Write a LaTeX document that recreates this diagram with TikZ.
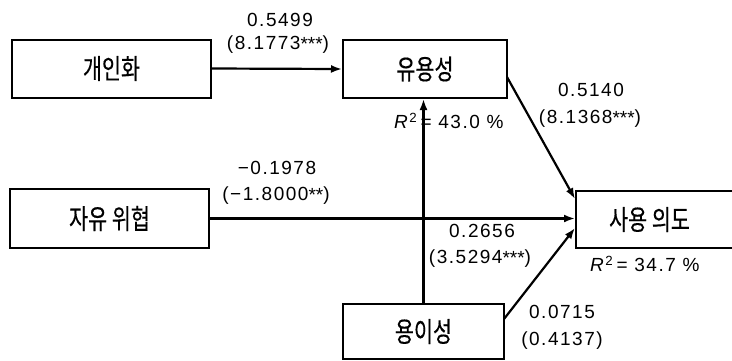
\documentclass[tikz,border=0pt]{standalone}
\usepackage{fontspec}
\setmainfont{Liberation Sans}[LetterSpace=8]
\newfontfamily\krfont{Noto Sans CJK KR}[FakeBold=0.4]
\usetikzlibrary{arrows.meta}
\newcommand{\kr}[1]{\scalebox{0.9}[1.2]{\krfont #1}}
\newcommand{\stt}{\raisebox{-1pt}{*}}
\tikzset{
  box/.style={draw, line width=2pt, minimum height=58pt, inner sep=0pt, font=\fontsize{23}{23}\selectfont},
  arr/.style={line width=2.2pt, -{Latex[length=11pt,width=8pt]}},
  lab/.style={font=\fontsize{19}{19}\selectfont, inner sep=0pt},
}
\begin{document}
\begin{tikzpicture}[x=1pt,y=-1pt]
\useasboundingbox (0,0) rectangle (732,360);
\clip (0,0) rectangle (732,360);
\node[box, minimum width=199pt] (A) at (111.5,68.5) {\kr{개인화}};
\node[box, minimum width=164pt] (U) at (425,69) {\kr{유용성}};
\node[box, minimum width=199pt, minimum height=59pt] (F) at (109.5,218.5) {\kr{자유 위협}};
\node[box, minimum width=170pt, minimum height=57pt, anchor=west] (I) at (575,219.5) {\hspace*{-23pt}\kr{사용 의도}};
\node[box, minimum width=161pt, minimum height=55pt, anchor=north] (E) at (423.5,303) {\kr{용이성}};
\draw[arr] (A.east) -- (U.west);
\draw[arr] (F.east) -- (F.east -| I.west);
\draw[arr] (E.north) -- (E.north |- U.south);
\coordinate (us) at (507,77);
\coordinate (it) at (575,199);
\draw[arr] (us) -- (it);
\coordinate (es) at (504,319);
\coordinate (ib) at (575,228);
\draw[arr] (es) -- (ib);
\node[lab] (l1) at (280,20) {0.5499};
\node[lab] (l2) at (278,45) {(8.1773\stt\stt\stt)};
\node[lab] (l3) at (277,168) {−0.1978};
\node[lab] (l4) at (276,196) {(−1.8000\stt\stt)};
\node[lab] (l5) at (591,90) {0.5140};
\node[lab] (l6) at (590,119) {(8.1368\stt\stt\stt)};
\node[lab, anchor=west] (r1) at (394,121) {\textit{R}\textsuperscript{2}\,= 43.0 \%};
\node[lab] (l7) at (482,231) {0.2656};
\node[lab] (l8) at (480,259) {(3.5294\stt\stt\stt)};
\node[lab, anchor=west] (r2) at (590,264) {\textit{R}\textsuperscript{2}\,= 34.7 \%};
\node[lab] (l9) at (562,312) {0.0715};
\node[lab] (l10) at (562,341) {(0.4137)};
\end{tikzpicture}
\end{document}
